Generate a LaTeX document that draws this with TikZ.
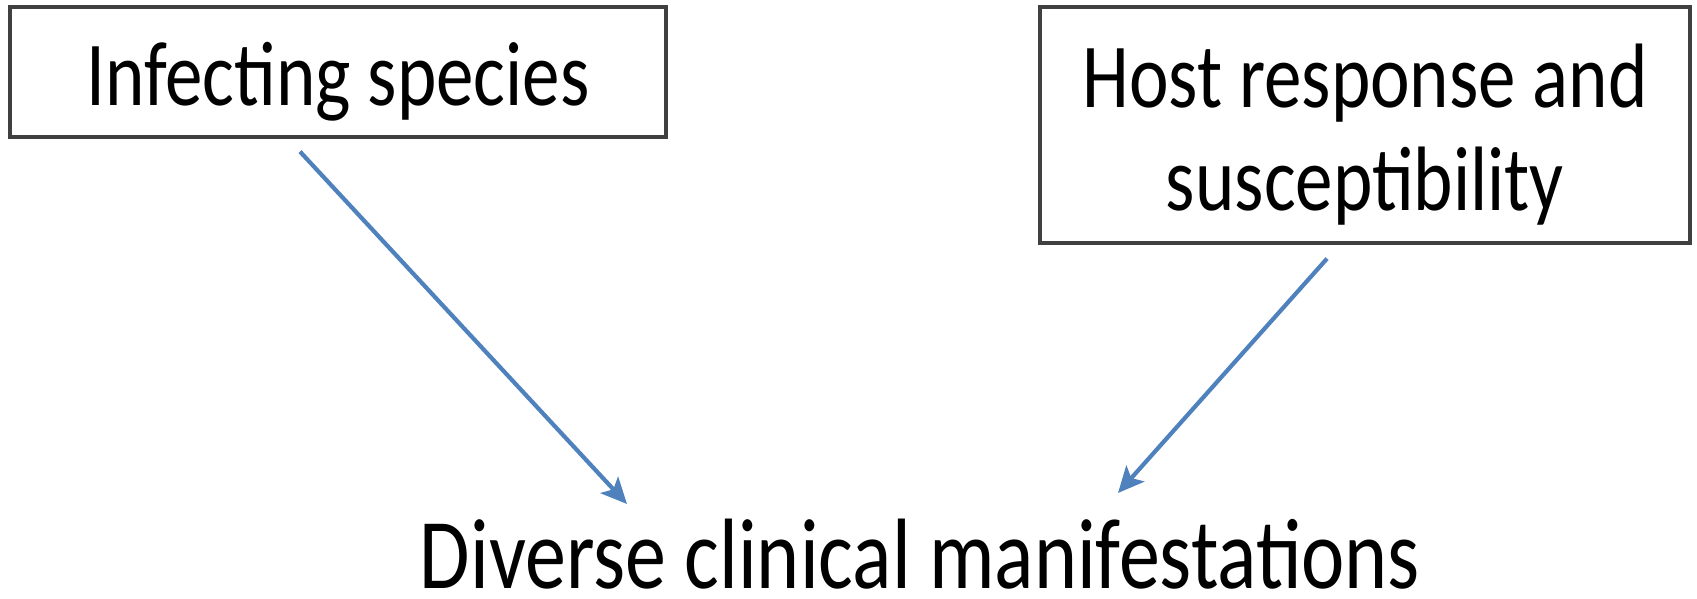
\documentclass[tikz,border=0pt]{standalone}
\usepackage{fontspec}
\setmainfont{Carlito}
\usetikzlibrary{positioning,arrows.meta,calc}
\definecolor{arrc}{RGB}{79,129,189}
\definecolor{edgec}{RGB}{64,64,64}
% stretched text, optionally lowered
\newcommand{\tall}[2][0pt]{\raisebox{#1}[\height][\depth]{\scalebox{1}[1.22]{#2}}}
\tikzset{
  box/.style={draw=edgec, line width=3.2pt, fill=white, align=center,
              inner sep=0pt, font=\fontsize{75}{103}\selectfont},
  flow/.style={-{Stealth[length=26pt, width=24pt, inset=6pt]},
               line width=4.2pt, arrc},
  lbl/.style={font=\fontsize{82}{98}\selectfont, inner sep=0pt},
}
\begin{document}
\begin{tikzpicture}[x=1pt, y=1pt]
\useasboundingbox (0,0) rectangle (1697,-598);

% ---------------------------------------------------------------- causes
\node[box, minimum width=656pt, minimum height=130pt,
      text height=80pt, text depth=14pt] (infect) at (338,-72)
  {\tall{Infecting species}};
\node[box, minimum width=650pt, minimum height=236pt] (host) at (1365,-125)
  {\tall[-10pt]{Host response and}\\ \tall[-10pt]{susceptibility}};

% ---------------------------------------------------------------- outcome
\node[lbl, anchor=base] (dcm) at (920,-588)
  {\tall{Diverse clinical manifestations}};

% ---------------------------------------------------------------- arrows
\coordinate (infTail) at ($(infect.south)+(-38,-13)$);
\coordinate (infHead) at ($(dcm.base)+(-293,84)$);
\coordinate (hostTail) at ($(host.south)+(-38,-14)$);
\coordinate (hostHead) at ($(dcm.base)+(198,95)$);
\draw[flow] (infTail) -- (infHead);
\draw[flow] (hostTail) -- (hostHead);

\end{tikzpicture}
\end{document}
